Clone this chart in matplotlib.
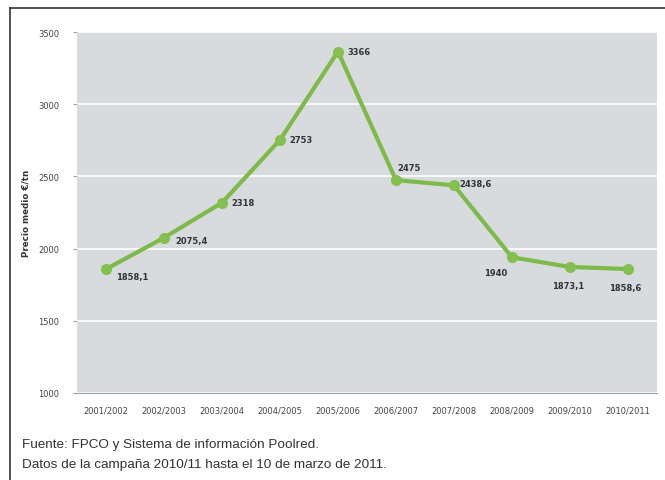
import matplotlib.pyplot as plt
from matplotlib.lines import Line2D

campanas = ['2001/2002', '2002/2003', '2003/2004', '2004/2005', '2005/2006',
            '2006/2007', '2007/2008', '2008/2009', '2009/2010', '2010/2011']
precios = [1858.1, 2075.4, 2318, 2753, 3366, 2475, 2438.6, 1940, 1873.1, 1858.6]
yticks = [1000, 1500, 2000, 2500, 3000, 3500]

# label offsets (points) and alignment per point
offsets = [(7, -5, 'left'), (8, -2, 'left'), (7, 0, 'left'), (7, 0, 'left'), (7, 0, 'left'),
           (1, 9, 'left'), (4, 1, 'left'), (-3, -11, 'right'), (-1, -13, 'center'), (-2, -13, 'center')]

fig = plt.figure(figsize=(6.65, 4.81), dpi=100)
fig.patch.set_facecolor('white')
ax = fig.add_axes([0.1158, 0.181, 0.872, 0.750])
ax.set_facecolor('#d8dbde')

x = list(range(len(campanas)))
ax.plot(x, precios, color='#7eba4a', lw=3, marker='o', ms=7, mfc='#84bf50', mec='#84bf50', zorder=3)

for i, v in enumerate(precios):
    dx, dy, ha = offsets[i]
    txt = ('%g' % v).replace('.', ',')
    ax.annotate(txt, (i, v), xytext=(dx, dy), textcoords='offset points',
                ha=ha, va='center', fontsize=6, color='#333333', fontweight='bold')

ax.set_ylim(1000, 3500)
ax.set_xlim(-0.5, len(campanas) - 0.5)
ax.set_yticks(yticks)
ax.set_yticklabels([str(t) for t in yticks])
ax.set_xticks(x)
ax.set_xticklabels(campanas)
ax.yaxis.grid(True, color='white', lw=1.2)
ax.set_axisbelow(True)
for s in ['top', 'right', 'left']:
    ax.spines[s].set_visible(False)
ax.spines['bottom'].set_color('#a0a0a0')
ax.tick_params(axis='y', labelsize=6, colors='#444444', length=3, color='#a0a0a0', pad=10)
ax.tick_params(axis='x', labelsize=6, colors='#444444', length=0, pad=9)
ax.set_ylabel('Precio medio €/tn', fontsize=6.3, fontweight='bold', color='#333333', labelpad=5)

fig.text(0.033, 0.075, 'Fuente: FPCO y Sistema de información Poolred.',
         fontsize=9.7, family='Liberation Sans', color='#333333', va='center')
fig.text(0.033, 0.034, 'Datos de la campaña 2010/11 hasta el 10 de marzo de 2011.',
         fontsize=9.7, family='Liberation Sans', color='#333333', va='center')

# frame lines top and left
fig.add_artist(Line2D([10 / 665, 1], [1 - 9 / 481, 1 - 9 / 481], transform=fig.transFigure, color='#333333', lw=1.2))
fig.add_artist(Line2D([10 / 665, 10 / 665], [0, 1 - 9 / 481], transform=fig.transFigure, color='#333333', lw=1.2))

fig.savefig('out.png', dpi=100)
